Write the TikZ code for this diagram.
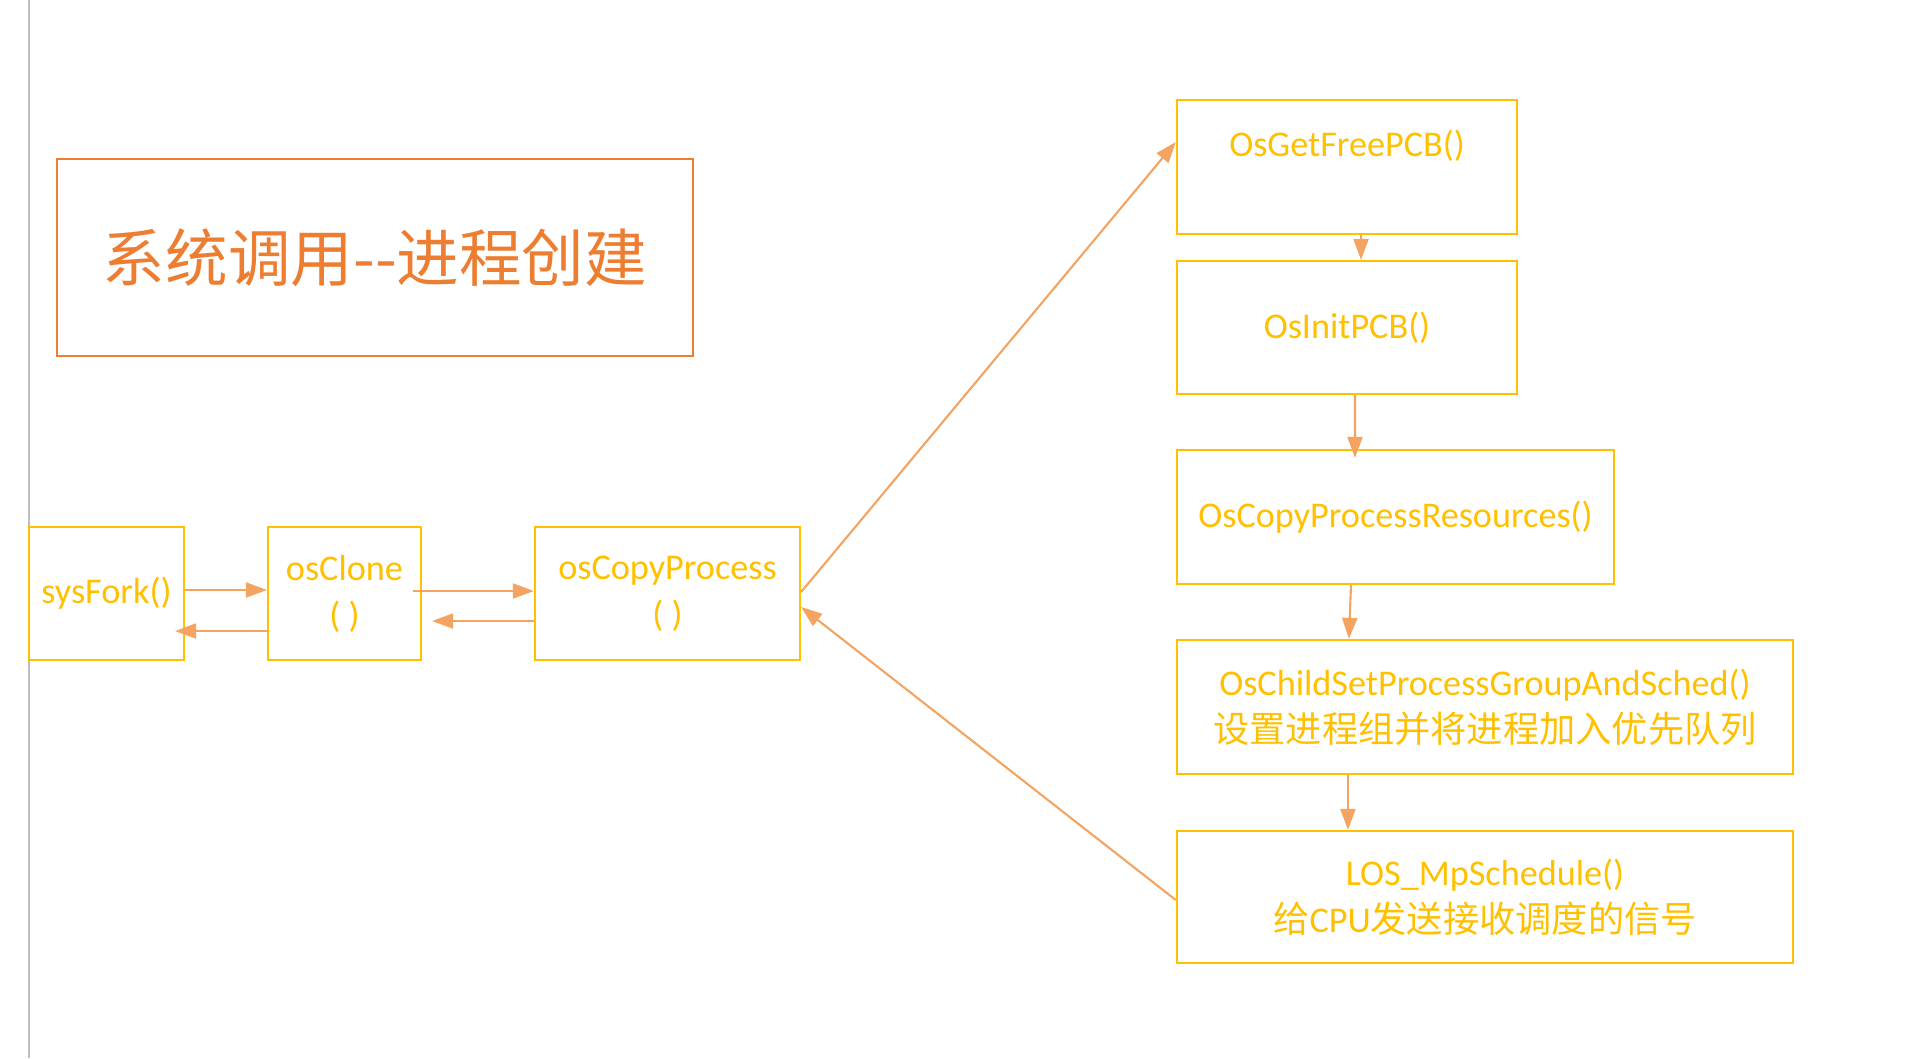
\documentclass[tikz,border=0pt]{standalone}
\usepackage{fontspec}
\setmainfont{Carlito}
\newfontfamily\cjk{Noto Sans CJK SC}
\usepackage{xcolor}
\usetikzlibrary{arrows.meta}
\definecolor{boxgold}{HTML}{FFC000}
\definecolor{arrorange}{HTML}{F4A460}
\definecolor{titleorange}{HTML}{ED7D31}

\begin{document}
\begin{tikzpicture}[x=0.01cm, y=-0.01cm, font=\fontsize{10.3}{13.4}\selectfont,
    fn/.style={draw=boxgold, line width=0.6pt, text=boxgold, align=center, inner sep=0pt, minimum height=1.33cm},
    flow/.style={-{Triangle[length=2.1mm, width=1.5mm]}, draw=arrorange, fill=arrorange, line width=0.6pt}]
        \useasboundingbox (0,0) rectangle (1907,1058);
        \draw[black!25, line width=0.4pt] (29,0) -- (29,1058);
        \node[draw=titleorange, line width=0.6pt, minimum width=6.36cm, minimum height=1.97cm, text=titleorange, font=\cjk\fontsize{17.8}{21}\selectfont] (title) at (375,257.5) {系统调用-{}-进程创建};
        % call chain on the left
        \node[fn, minimum width=1.55cm] (sysfork) at (106.5,593.5) {sysFork()};
        \node[fn, minimum width=1.53cm] (osclone) at (344.5,593.5) {osClone\\( )};
        \node[fn, minimum width=2.65cm] (oscopy) at (667.5,593.5) {osCopyProcess\\( )};
        \draw[flow] ([yshift=0.035cm]sysfork.east) -- ([yshift=0.035cm]osclone.west);
        \draw[flow] ([yshift=-0.375cm]osclone.west) -- ([xshift=-0.1cm, yshift=-0.375cm]sysfork.east);
        \draw[flow] ([xshift=-0.09cm, yshift=0.025cm]osclone.east) -- ([yshift=0.025cm]oscopy.west);
        \draw[flow] ([yshift=-0.275cm]oscopy.west) -- ([xshift=0.1cm, yshift=-0.275cm]osclone.east);
        % steps of osCopyProcess
        \node[fn, minimum width=3.4cm, minimum height=1.34cm] (getfree) at (1347,167) {OsGetFreePCB()\\\mbox{}};
        \node[fn, minimum width=3.4cm] (initpcb) at (1347,327.5) {OsInitPCB()};
        \node[fn, minimum width=4.37cm, minimum height=1.34cm] (copyres) at (1395.5,517) {OsCopyProcessResources()};
        \node[fn, minimum width=6.16cm, minimum height=1.34cm] (childset) at (1485,707) {OsChildSetProcessGroupAndSched()\\{\cjk 设置进程组并将进程加入优先队列}};
        \node[fn, minimum width=6.16cm, minimum height=1.32cm] (mpsched) at (1485,897) {LOS\_MpSchedule()\\{\cjk 给}CPU{\cjk 发送接收调度的信号}};
        \draw[flow] ([yshift=0.015cm]oscopy.east) -- ([yshift=0.25cm]getfree.west);
        \draw[flow] ([xshift=0.14cm]getfree.south) -- ([xshift=0.14cm]initpcb.north);
        \draw[flow] ([xshift=0.08cm]initpcb.south) -- ([xshift=-0.405cm, yshift=-0.09cm]copyres.north);
        \draw[flow] ([xshift=-0.445cm]copyres.south) -- ([xshift=-1.36cm]childset.north);
        \draw[flow] ([xshift=-1.37cm]childset.south) -- ([xshift=-1.37cm]mpsched.north);
        \draw[flow] ([yshift=-0.03cm]mpsched.west) -- ([yshift=-0.135cm]oscopy.east);
\end{tikzpicture}
\end{document}
